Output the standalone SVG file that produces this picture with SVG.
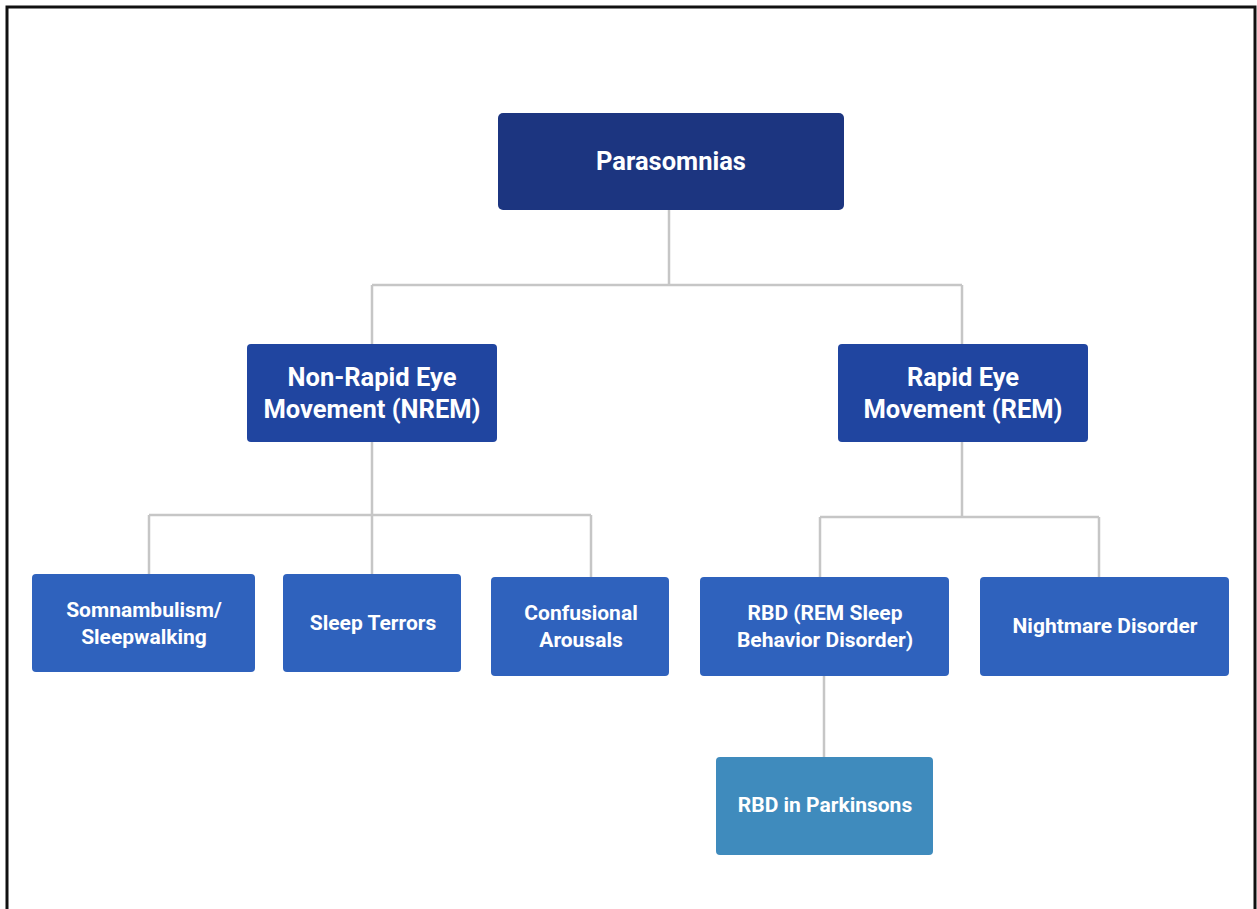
<svg xmlns="http://www.w3.org/2000/svg" width="1257" height="909" viewBox="0 0 1257 909">
<style>
.lbl{font-family:Roboto,"Liberation Sans",sans-serif;font-weight:700;fill:#ffffff;text-anchor:middle;dominant-baseline:central}
.l1{font-size:25.5px}
.l2{font-size:25.5px}
.l3{font-size:21px}
.conn{stroke:#c6c6c6;stroke-width:2.5;fill:none}
</style>
<rect x="0" y="0" width="1257" height="909" fill="#ffffff"/>
<path d="M7,909 V7 H1255 V909" fill="none" stroke="#111111" stroke-width="3"/>
<g id="connectors">
<path class="conn" d="M669,210 V285 M372,285 H962 M372,285 V344 M962,285 V344"/>
<path class="conn" d="M372,442 V515 M149,515 H591 M149,515 V574 M372,515 V574 M591,515 V577"/>
<path class="conn" d="M962,442 V517 M820,517 H1099 M820,517 V577 M1099,517 V577"/>
<path class="conn" d="M824,676 V757"/>
</g>
<g id="parasomnias">
<rect x="498" y="113" width="346" height="97" rx="5" fill="#1c3580"/>
<text class="lbl l1" x="671" y="161">Parasomnias</text>
</g>
<g id="nrem">
<rect x="247" y="344" width="250" height="98" rx="4" fill="#2045a0"/>
<text class="lbl l2" x="372" y="377">Non-Rapid Eye</text>
<text class="lbl l2" x="372" y="409">Movement (NREM)</text>
</g>
<g id="rem">
<rect x="838" y="344" width="250" height="98" rx="4" fill="#2045a0"/>
<text class="lbl l2" x="963" y="377">Rapid Eye</text>
<text class="lbl l2" x="963" y="409">Movement (REM)</text>
</g>
<g id="somnambulism">
<rect x="32" y="574" width="223" height="98" rx="4" fill="#2f62bd"/>
<text class="lbl l3" x="144" y="610">Somnambulism/</text>
<text class="lbl l3" x="144" y="637">Sleepwalking</text>
</g>
<g id="sleep-terrors">
<rect x="283" y="574" width="178" height="98" rx="4" fill="#2f62bd"/>
<text class="lbl l3" x="373" y="623">Sleep Terrors</text>
</g>
<g id="confusional">
<rect x="491" y="577" width="178" height="99" rx="4" fill="#2f62bd"/>
<text class="lbl l3" x="581" y="613">Confusional</text>
<text class="lbl l3" x="581" y="640">Arousals</text>
</g>
<g id="rbd">
<rect x="700" y="577" width="249" height="99" rx="4" fill="#2f62bd"/>
<text class="lbl l3" x="825" y="613">RBD (REM Sleep</text>
<text class="lbl l3" x="825" y="640">Behavior Disorder)</text>
</g>
<g id="nightmare">
<rect x="980" y="577" width="249" height="99" rx="4" fill="#2f62bd"/>
<text class="lbl l3" x="1105" y="626">Nightmare Disorder</text>
</g>
<g id="rbd-parkinsons">
<rect x="716" y="757" width="217" height="98" rx="4" fill="#3f8bbd"/>
<text class="lbl l3" x="825" y="805">RBD in Parkinsons</text>
</g>
</svg>
